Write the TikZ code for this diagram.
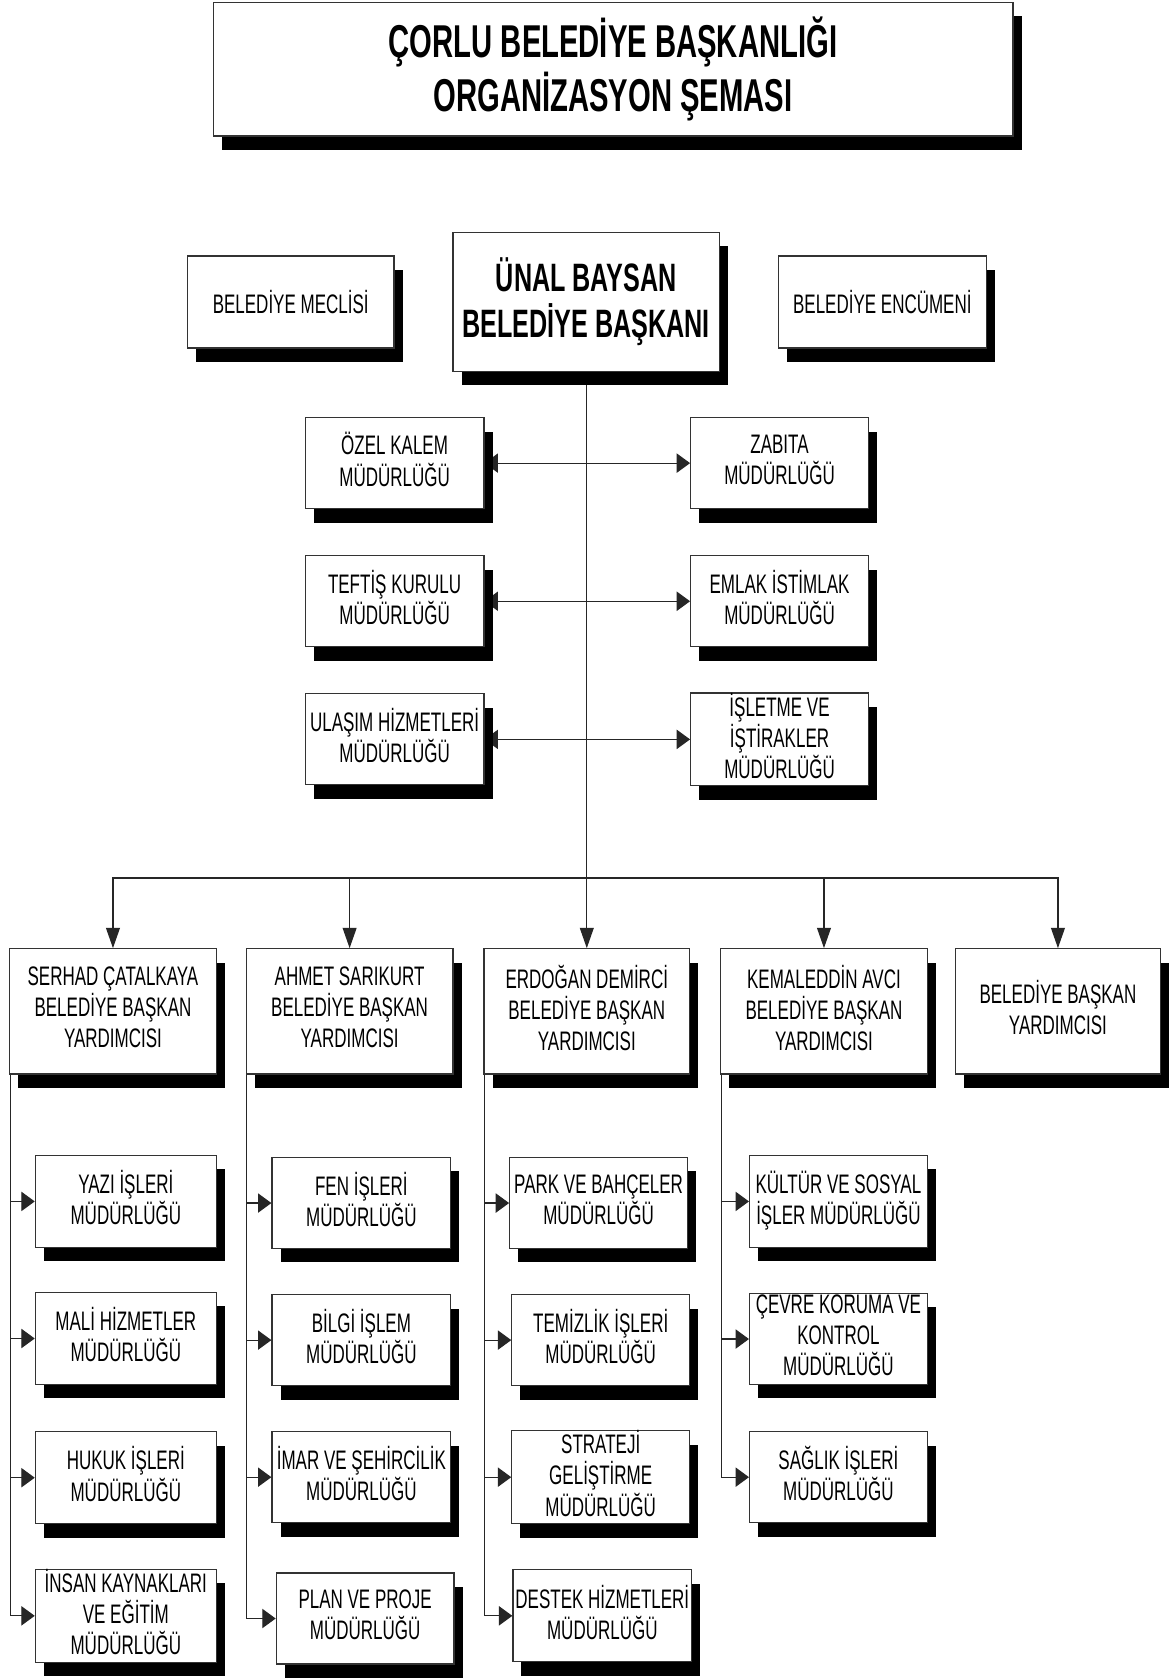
\documentclass[tikz,border=0pt]{standalone}
\usepackage{fontspec}
\usetikzlibrary{shadows,arrows.meta}
\newfontfamily\narrowsans[FakeStretch=0.635]{Liberation Sans}
\newcommand\boxfont{\narrowsans\fontsize{25}{29}\selectfont\lineskiplimit=-\maxdimen}
\newcommand\titlefont{\narrowsans\bfseries\fontsize{43}{50}\selectfont}
\newcommand\mayorfont{\narrowsans\bfseries\fontsize{37}{43}\selectfont}
\newcommand\bxstrut{\rule[-7.1pt]{0pt}{35.1pt}}
\pgfdeclarelayer{background}
\pgfsetlayers{background,main}
\tikzset{
  framed/.style={draw=black!80, line width=1.1pt, fill=white, inner sep=0pt, align=center,
    drop shadow={shadow xshift=8pt, shadow yshift=-13pt, opacity=1, fill=black}},
  box/.style={framed, font=\boxfont, execute at begin node=\bxstrut, execute at end node=\bxstrut},
  conn/.style={draw=black!85, line width=1.1pt},
  arrh/.style={conn, -{Triangle[length=12.5pt,width=18pt]}},
  arrv/.style={conn, -{Triangle[length=19pt,width=13pt]}},
}
\begin{document}
\begin{tikzpicture}[x=1pt,y=-1pt]
\useasboundingbox (0,0) rectangle (1094,1568);
% title and top row
\node[framed, font=\titlefont, minimum width=747, minimum height=125] (title) at (572.5,64.5) {ÇORLU BELEDİYE BAŞKANLIĞI\\ORGANİZASYON ŞEMASI};
\node[box, minimum width=193, minimum height=86] (meclis) at (271.5,282) {BELEDİYE MECLİSİ};
\node[framed, font=\mayorfont, minimum width=249, minimum height=130] (mayor) at (547.5,282) {ÜNAL BAYSAN\\BELEDİYE BAŞKANI};
\node[box, minimum width=194, minimum height=86] (encumen) at (824,282) {BELEDİYE ENCÜMENİ};
% staff units
\node[box, minimum width=167, minimum height=85] (ozel) at (368.5,432.5) {ÖZEL KALEM\\MÜDÜRLÜĞÜ};
\node[box, minimum width=166, minimum height=85] (zabita) at (728,432.5) {ZABITA\\MÜDÜRLÜĞÜ};
\node[box, minimum width=167, minimum height=85] (teftis) at (368.5,561.5) {TEFTİŞ KURULU\\MÜDÜRLÜĞÜ};
\node[box, minimum width=166, minimum height=85] (emlak) at (728,561.5) {EMLAK İSTİMLAK\\MÜDÜRLÜĞÜ};
\node[box, minimum width=167, minimum height=85] (ulasim) at (368.5,690.5) {ULAŞIM HİZMETLERİ\\MÜDÜRLÜĞÜ};
\node[box, minimum width=166, minimum height=85] (isletme) at (728,690.5) {İŞLETME VE\\İŞTİRAKLER\\MÜDÜRLÜĞÜ};
% deputies
\node[box, minimum width=193, minimum height=117] (d1) at (105.5,944.5) {SERHAD ÇATALKAYA\\BELEDİYE BAŞKAN\\YARDIMCISI};
\node[box, minimum width=193, minimum height=117] (d2) at (326.5,944.5) {AHMET SARIKURT\\BELEDİYE BAŞKAN\\YARDIMCISI};
\node[box, minimum width=192, minimum height=117] (d3) at (548,944.5) {ERDOĞAN DEMİRCİ\\BELEDİYE BAŞKAN\\YARDIMCISI};
\node[box, minimum width=193, minimum height=117] (d4) at (769.5,944.5) {KEMALEDDİN AVCI\\BELEDİYE BAŞKAN\\YARDIMCISI};
\node[box, minimum width=192, minimum height=117] (d5) at (988,944.5) {BELEDİYE BAŞKAN\\YARDIMCISI};
% column 1
\node[box, minimum width=169, minimum height=86] (c11) at (117.5,1122) {YAZI İŞLERİ\\MÜDÜRLÜĞÜ};
\node[box, minimum width=169, minimum height=86] (c12) at (117.5,1250) {MALİ HİZMETLER\\MÜDÜRLÜĞÜ};
\node[box, minimum width=169, minimum height=86] (c13) at (117.5,1380) {HUKUK İŞLERİ\\MÜDÜRLÜĞÜ};
\node[box, minimum width=169, minimum height=86] (c14) at (117.5,1509) {İNSAN KAYNAKLARI\\VE EĞİTİM\\MÜDÜRLÜĞÜ};
% column 2
\node[box, minimum width=167, minimum height=85] (c21) at (337.5,1123.5) {FEN İŞLERİ\\MÜDÜRLÜĞÜ};
\node[box, minimum width=167, minimum height=85] (c22) at (337.5,1251.5) {BİLGİ İŞLEM\\MÜDÜRLÜĞÜ};
\node[box, minimum width=167, minimum height=85] (c23) at (337.5,1379.5) {İMAR VE ŞEHİRCİLİK\\MÜDÜRLÜĞÜ};
\node[box, minimum width=166, minimum height=85] (c24) at (341,1511.5) {PLAN VE PROJE\\MÜDÜRLÜĞÜ};
% column 3
\node[box, minimum width=166, minimum height=85] (c31) at (559,1123.5) {PARK VE BAHÇELER\\MÜDÜRLÜĞÜ};
\node[box, minimum width=166, minimum height=85] (c32) at (561,1251.5) {TEMİZLİK İŞLERİ\\MÜDÜRLÜĞÜ};
\node[box, minimum width=166, minimum height=85] (c33) at (561,1379.5) {STRATEJİ\\GELİŞTİRME\\MÜDÜRLÜĞÜ};
\node[box, minimum width=167, minimum height=86] (c34) at (562.5,1509) {DESTEK HİZMETLERİ\\MÜDÜRLÜĞÜ};
% column 4
\node[box, minimum width=166, minimum height=86] (c41) at (783,1122) {KÜLTÜR VE SOSYAL\\İŞLER MÜDÜRLÜĞÜ};
\node[box, minimum width=166, minimum height=85] (c42) at (783,1250.5) {ÇEVRE KORUMA VE\\KONTROL\\MÜDÜRLÜĞÜ};
\node[box, minimum width=166, minimum height=85] (c43) at (783,1379.5) {SAĞLIK İŞLERİ\\MÜDÜRLÜĞÜ};
\coordinate (bus) at (0,820);
\begin{pgfonlayer}{background}
\fill[white] (0,0) rectangle (1094,1568);
% mayor trunk and staff arrows
\draw[conn] (mayor.south) -- (mayor.south |- bus);
\foreach \l/\r in {ozel/zabita, teftis/emlak, ulasim/isletme}{
  \draw[arrh] (\l.east -| mayor.south) -- (\l.east);
  \draw[arrh] (\l.east -| mayor.south) -- (\r.west);
}
% deputies
\foreach \d in {d1,d2,d3,d4,d5}{
  \draw[arrv] (mayor.south |- bus) -| (\d.north);
}
% columns
\foreach \d/\c in {d1/c11,d1/c12,d1/c13,d1/c14,d2/c21,d2/c22,d2/c23,d2/c24,d3/c31,d3/c32,d3/c33,d3/c34,d4/c41,d4/c42,d4/c43}{
  \draw[arrh] ([xshift=1pt]\d.south west) |- (\c.west);
}
\end{pgfonlayer}
\end{tikzpicture}
\end{document}
